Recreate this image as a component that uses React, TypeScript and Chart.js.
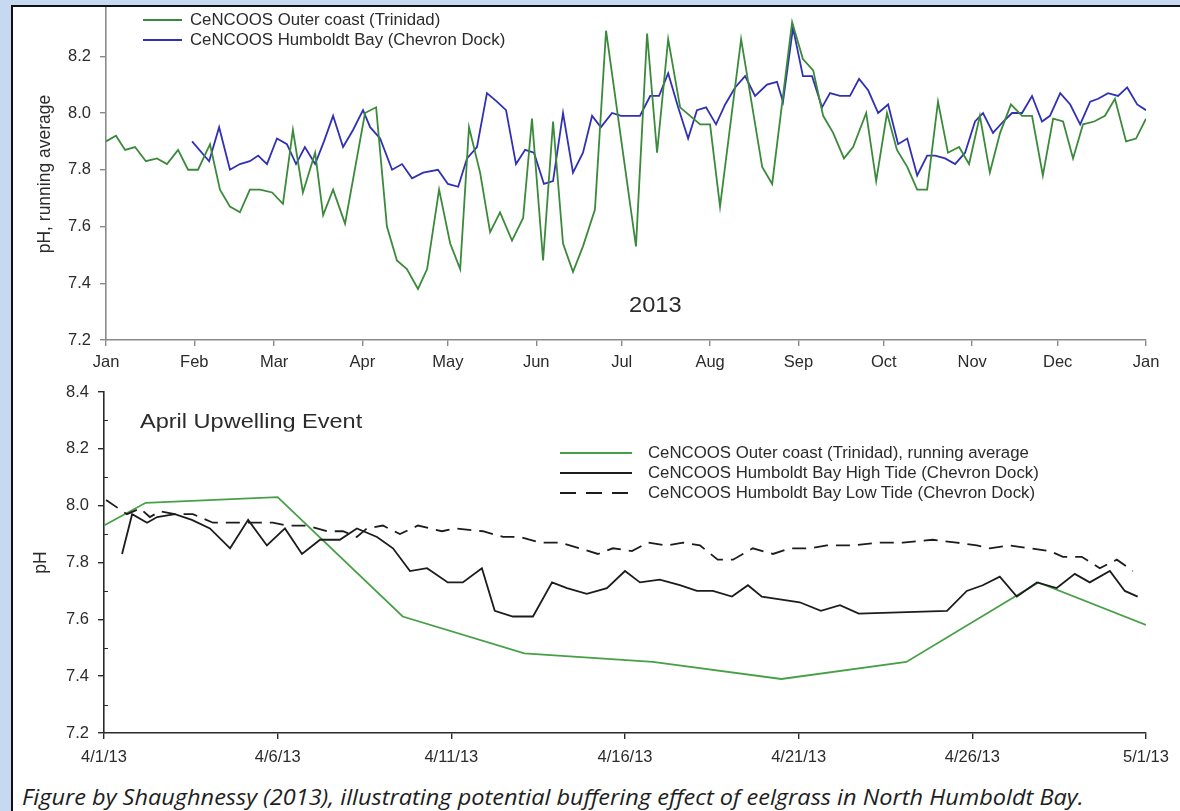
import React, { useEffect, useRef } from "react";
import { Chart, registerables } from "chart.js";

Chart.register(...registerables);

// ---- Annual panel (2013) ----
const monthTicks = [0, 31, 59, 90, 120, 151, 181, 212, 243, 273, 304, 334, 365];
const monthLabels = ["Jan", "Feb", "Mar", "Apr", "May", "Jun", "Jul", "Aug", "Sep", "Oct", "Nov", "Dec", "Jan"];
const annualPHTicks = [7.2, 7.4, 7.6, 7.8, 8.0, 8.2];

// CeNCOOS Outer coast (Trinidad): day of year, pH running average
const outerCoastDays = [
  0, 3.5, 6.7, 10.2, 14.0, 17.9, 21.4, 25.3, 28.8, 32.3, 36.5, 40.0, 43.5, 47.0, 50.5, 54.1, 58.3, 62.1, 65.6, 69.1,
  73.4, 76.2, 79.7, 83.9, 90.9, 94.8, 98.6, 102.1, 105.6, 109.5, 112.7, 116.9, 120.8, 124.3, 127.4, 131.3, 134.8, 138.3, 142.5, 146.4,
  149.5, 153.4, 156.9, 160.4, 163.9, 167.4, 171.6, 175.5, 186.0, 189.9, 193.4, 197.3, 201.5, 205.0, 208.5, 212.0, 215.5, 222.9, 230.3, 233.8,
  240.8, 244.6, 248.2, 251.7, 255.2, 259.0, 262.2, 266.8, 270.3, 274.1, 277.6, 281.2, 284.7, 288.2, 292.0, 295.5, 299.4, 302.9, 306.7, 310.2,
  313.8, 317.6, 321.5, 325.0, 328.8, 332.4, 335.9, 339.4, 342.9, 346.8, 350.6, 354.1, 358.0, 361.5, 365.0,
];
const outerCoastPH = [
  7.90, 7.92, 7.87, 7.88, 7.83, 7.84, 7.82, 7.87, 7.80, 7.80, 7.89, 7.73, 7.67, 7.65, 7.73, 7.73, 7.72, 7.68, 7.94, 7.72,
  7.86, 7.64, 7.73, 7.61, 8.00, 8.02, 7.60, 7.48, 7.45, 7.38, 7.45, 7.73, 7.54, 7.45, 7.95, 7.79, 7.58, 7.65, 7.55, 7.63,
  7.98, 7.48, 7.97, 7.54, 7.44, 7.53, 7.66, 8.29, 7.53, 8.28, 7.86, 8.26, 8.02, 7.99, 7.96, 7.96, 7.67, 8.26, 7.81, 7.75,
  8.32, 8.19, 8.15, 7.99, 7.93, 7.84, 7.88, 8.00, 7.76, 8.00, 7.87, 7.81, 7.73, 7.73, 8.04, 7.86, 7.88, 7.82, 7.99, 7.79,
  7.93, 8.03, 7.99, 7.99, 7.78, 7.98, 7.97, 7.84, 7.96, 7.97, 7.99, 8.05, 7.90, 7.91, 7.98,
];

// CeNCOOS Humboldt Bay (Chevron Dock)
const humboldtDays = [
  30.2, 36.2, 39.7, 43.5, 47.0, 50.5, 53.4, 56.5, 60.0, 63.5, 66.7, 69.8, 73.4, 76.5, 79.7, 83.2, 86.7, 90.2, 92.7, 96.2,
  100.4, 103.9, 107.4, 111.3, 116.5, 120.0, 123.6, 126.7, 130.2, 133.7, 137.2, 140.4, 143.9, 147.1, 150.2, 153.7, 156.9, 160.4, 163.9, 167.4,
  170.6, 173.7, 177.6, 180.8, 183.9, 187.4, 191.0, 194.1, 197.3, 200.8, 204.3, 207.4, 210.6, 214.1, 217.3, 220.8, 224.3, 227.8, 232.0, 235.5,
  237.6, 241.1, 244.6, 247.8, 251.3, 254.1, 257.6, 261.1, 264.3, 267.5, 271.0, 274.5, 278.0, 281.2, 284.7, 288.2, 291.0, 294.5, 298.0, 301.5,
  305.0, 307.8, 311.3, 314.9, 318.0, 321.5, 325.0, 328.5, 331.3, 334.9, 338.4, 341.9, 345.4, 348.2, 351.7, 355.2, 358.4, 361.9, 365.0,
];
const humboldtPH = [
  7.90, 7.83, 7.95, 7.80, 7.82, 7.83, 7.85, 7.82, 7.91, 7.89, 7.82, 7.88, 7.82, 7.90, 7.99, 7.88, 7.94, 8.01, 7.95, 7.91,
  7.80, 7.82, 7.77, 7.79, 7.80, 7.75, 7.74, 7.84, 7.88, 8.07, 8.04, 8.01, 7.82, 7.87, 7.86, 7.75, 7.76, 8.00, 7.79, 7.86,
  7.99, 7.95, 8.00, 7.99, 7.99, 7.99, 8.06, 8.06, 8.14, 8.02, 7.91, 8.01, 8.02, 7.96, 8.03, 8.09, 8.13, 8.06, 8.10, 8.11,
  8.04, 8.30, 8.13, 8.13, 8.02, 8.07, 8.06, 8.06, 8.12, 8.08, 8.00, 8.03, 7.89, 7.91, 7.78, 7.85, 7.85, 7.84, 7.82, 7.86,
  7.97, 8.00, 7.93, 7.97, 8.00, 8.00, 8.06, 7.97, 7.99, 8.07, 8.03, 7.96, 8.04, 8.05, 8.07, 8.06, 8.09, 8.03, 8.01,
];

// ---- April upwelling panel ----
const aprilDayTicks = [0, 5, 10, 15, 20, 25, 30];
const aprilDateLabels = ["4/1/13", "4/6/13", "4/11/13", "4/16/13", "4/21/13", "4/26/13", "5/1/13"];
const aprilPHTicks = [7.2, 7.4, 7.6, 7.8, 8.0, 8.2, 8.4];
const aprilPHMinorTicks = [7.3, 7.5, 7.7, 7.9, 8.1, 8.3];

// Days since 4/1/13
const upwellingDays = [0, 1.2, 5.0, 8.6, 12.1, 15.8, 19.5, 23.1, 26.9, 30.0];
const upwellingPH = [7.93, 8.01, 8.03, 7.61, 7.48, 7.45, 7.39, 7.45, 7.73, 7.58];

const highTideDays = [
  0.52, 0.81, 1.24, 1.53, 2.04, 2.53, 3.05, 3.63, 4.15, 4.69, 5.21, 5.70, 6.22, 6.79, 7.28, 7.86, 8.32, 8.81, 9.30, 9.90,
  10.33, 10.88, 11.25, 11.77, 12.35, 12.90, 13.33, 13.90, 14.48, 15.00, 15.43, 16.00, 16.58, 17.07, 17.53, 18.08, 18.54, 18.94, 19.46, 20.03,
  20.64, 21.19, 21.73, 24.27, 24.84, 25.30, 25.79, 26.28, 26.86, 27.43, 27.95, 28.38, 28.96, 29.39, 29.76,
];
const highTidePH = [
  7.83, 7.97, 7.94, 7.96, 7.97, 7.95, 7.92, 7.85, 7.95, 7.86, 7.92, 7.83, 7.88, 7.88, 7.92, 7.89, 7.85, 7.77, 7.78, 7.73,
  7.73, 7.78, 7.63, 7.61, 7.61, 7.73, 7.71, 7.69, 7.71, 7.77, 7.73, 7.74, 7.72, 7.70, 7.70, 7.68, 7.72, 7.68, 7.67, 7.66,
  7.63, 7.65, 7.62, 7.63, 7.70, 7.72, 7.75, 7.68, 7.73, 7.71, 7.76, 7.73, 7.77, 7.70, 7.68,
];

const lowTideDays = [
  0.06, 0.66, 1.04, 1.32, 1.61, 2.04, 2.56, 3.14, 4.29, 4.86, 5.27, 5.84, 6.42, 6.88, 7.28, 7.57, 8.03, 8.52, 9.04, 9.73,
  10.10, 10.91, 11.49, 11.97, 12.55, 13.13, 13.70, 14.22, 14.65, 15.20, 15.66, 16.21, 16.67, 17.16, 17.67, 18.11, 18.68, 19.26, 19.75, 20.32,
  20.81, 21.56, 22.34, 23.00, 23.86, 24.55, 25.13, 25.50, 26.08, 26.66, 27.23, 27.61, 28.15, 28.67, 29.16, 29.62,
];
const lowTidePH = [
  8.02, 7.97, 7.99, 7.96, 7.98, 7.97, 7.97, 7.94, 7.94, 7.94, 7.93, 7.93, 7.91, 7.91, 7.89, 7.92, 7.93, 7.90, 7.93, 7.91,
  7.92, 7.91, 7.89, 7.89, 7.87, 7.87, 7.85, 7.83, 7.85, 7.84, 7.87, 7.86, 7.87, 7.86, 7.81, 7.81, 7.85, 7.83, 7.85, 7.85,
  7.86, 7.86, 7.87, 7.87, 7.88, 7.87, 7.86, 7.85, 7.86, 7.85, 7.84, 7.82, 7.82, 7.78, 7.81, 7.77,
];

const FONT = "'Liberation Sans', Arial, Helvetica, sans-serif";
const TEXT = "#2b2b2b";
const GREEN_TOP = "#3b8a3b";
const BLUE_TOP = "#3030b4";
const GREEN_APRIL = "#47a047";
const BLACK = "#1c1c1c";
const TICK_SIZE = 16.5;

const pts = (xs: number[], ys: number[]) => xs.map((x, i) => ({ x, y: ys[i] }));

// short inward ticks between the labelled pH values
const minorTicks = {
  id: "minorTicks",
  afterDraw(chart: any, _args: any, opts: any) {
    if (!opts || !opts.values) return;
    const y = chart.scales.y;
    const ctx = chart.ctx;
    ctx.save();
    ctx.strokeStyle = opts.color;
    ctx.lineWidth = 1;
    for (const v of opts.values) {
      const py = Math.round(y.getPixelForValue(v)) + 0.5;
      ctx.beginPath();
      ctx.moveTo(y.right, py);
      ctx.lineTo(y.right + 4, py);
      ctx.stroke();
    }
    ctx.restore();
  },
};

function lineSet(data: { x: number; y: number }[], color: string, dash: number[] = []) {
  return {
    data,
    borderColor: color,
    borderWidth: 1.8,
    borderDash: dash,
    pointRadius: 0,
    tension: 0,
    fill: false,
  };
}

function axisCommon(color: string) {
  return {
    grid: { drawOnChartArea: false, drawTicks: true, tickLength: 6, color, lineWidth: 1.4 },
    border: { display: true, color, width: 1.6 },
  };
}

// pin the axis box to a fixed size and drop the label overhang padding
const fixWidth = (w: number) => (s: any) => {
  s.width = w;
  s.paddingTop = 0;
  s.paddingBottom = 0;
};
const fixHeight = (h: number) => (s: any) => {
  s.height = h;
};

function AnnualChart() {
  const ref = useRef<HTMLCanvasElement>(null);
  useEffect(() => {
    const AXIS = "#8a8a8a";
    const chart = new Chart(ref.current!, {
      type: "line",
      data: {
        datasets: [
          lineSet(pts(outerCoastDays, outerCoastPH), GREEN_TOP),
          lineSet(pts(humboldtDays, humboldtPH), BLUE_TOP),
        ] as any,
      },
      options: {
        animation: false,
        responsive: false,
        maintainAspectRatio: false,
        layout: { padding: { left: 0, right: 34, top: 8, bottom: 0 } },
        plugins: { legend: { display: false }, tooltip: { enabled: false } },
        scales: {
          x: {
            type: "linear",
            min: 0,
            max: 365,
            afterBuildTicks: (s: any) => {
              s.ticks = monthTicks.map((v) => ({ value: v }));
            },
            afterFit: fixHeight(40),
            ticks: {
              autoSkip: false,
              maxRotation: 0,
              padding: 7,
              color: TEXT,
              font: { family: FONT, size: TICK_SIZE },
              callback: (_v: any, i: number) => monthLabels[i],
            },
            ...axisCommon(AXIS),
          },
          y: {
            type: "linear",
            min: 7.2,
            max: 8.37,
            afterBuildTicks: (s: any) => {
              s.ticks = annualPHTicks.map((v) => ({ value: v }));
            },
            afterFit: fixWidth(106),
            ticks: {
              padding: 9,
              color: TEXT,
              font: { family: FONT, size: TICK_SIZE },
              callback: (v: any) => Number(v).toFixed(1),
            },
            title: {
              display: true,
              text: "pH, running average",
              color: TEXT,
              font: { family: FONT, size: 17.5 },
              padding: { top: 35, bottom: 0 },
            },
            ...axisCommon(AXIS),
          },
        },
      } as any,
    });
    return () => chart.destroy();
  }, []);
  return (
    <canvas
      ref={ref}
      width={1180}
      height={380}
      style={{ position: "absolute", left: 0, top: 0, width: 1180, height: 380 }}
    />
  );
}

function AprilChart() {
  const ref = useRef<HTMLCanvasElement>(null);
  useEffect(() => {
    const AXIS = "#2a2a2a";
    const chart = new Chart(ref.current!, {
      type: "line",
      data: {
        datasets: [
          lineSet(pts(lowTideDays, lowTidePH), BLACK, [14, 8]),
          lineSet(pts(highTideDays, highTidePH), BLACK),
          lineSet(pts(upwellingDays, upwellingPH), GREEN_APRIL),
        ] as any,
      },
      plugins: [minorTicks],
      options: {
        animation: false,
        responsive: false,
        maintainAspectRatio: false,
        layout: { padding: { left: 0, right: 34, top: 12, bottom: 0 } },
        plugins: {
          legend: { display: false },
          tooltip: { enabled: false },
          minorTicks: { values: aprilPHMinorTicks, color: AXIS },
        },
        scales: {
          x: {
            type: "linear",
            min: 0,
            max: 30,
            afterBuildTicks: (s: any) => {
              s.ticks = aprilDayTicks.map((v) => ({ value: v }));
            },
            afterFit: fixHeight(47),
            ticks: {
              autoSkip: false,
              maxRotation: 0,
              padding: 9,
              color: TEXT,
              font: { family: FONT, size: TICK_SIZE },
              callback: (_v: any, i: number) => aprilDateLabels[i],
            },
            ...axisCommon(AXIS),
          },
          y: {
            type: "linear",
            min: 7.2,
            max: 8.4,
            afterBuildTicks: (s: any) => {
              s.ticks = aprilPHTicks.map((v) => ({ value: v }));
            },
            afterFit: fixWidth(104),
            ticks: {
              padding: 9,
              color: TEXT,
              font: { family: FONT, size: TICK_SIZE },
              callback: (v: any) => Number(v).toFixed(1),
            },
            title: {
              display: true,
              text: "pH",
              color: TEXT,
              font: { family: FONT, size: 17.5 },
              padding: { top: 31, bottom: 0 },
            },
            ...axisCommon(AXIS),
          },
        },
      } as any,
    });
    return () => chart.destroy();
  }, []);
  return (
    <canvas
      ref={ref}
      width={1180}
      height={400}
      style={{ position: "absolute", left: 0, top: 380, width: 1180, height: 400 }}
    />
  );
}

const textAt = (
  left: number,
  centerY: number,
  size: number,
  stretch = 1,
  extra: React.CSSProperties = {}
): React.CSSProperties => ({
  position: "absolute",
  left,
  top: centerY,
  transform: `translateY(-50%) scaleX(${stretch})`,
  transformOrigin: "left center",
  fontFamily: FONT,
  fontSize: size,
  lineHeight: 1,
  color: TEXT,
  whiteSpace: "nowrap",
  ...extra,
});

const sample = (left: number, y: number, width: number, bg: string): React.CSSProperties => ({
  position: "absolute",
  left,
  top: y - 1,
  width,
  height: 2,
  background: bg,
});

export default function App() {
  return (
    <div
      style={{
        position: "absolute",
        left: 0,
        top: 0,
        width: 1180,
        height: 811,
        overflow: "hidden",
        background: "#c6d9f0",
      }}
    >
      <div
        style={{
          position: "absolute",
          left: 11,
          top: 5,
          width: 1200,
          height: 900,
          background: "#ffffff",
          borderLeft: "2px solid #111",
          borderTop: "2px solid #111",
        }}
      />
      <AnnualChart />
      <AprilChart />

      {/* annual legend */}
      <div style={sample(143, 20, 39, GREEN_TOP)} />
      <div style={textAt(190, 20, 16.8)}>CeNCOOS Outer coast (Trinidad)</div>
      <div style={sample(143, 40, 39, BLUE_TOP)} />
      <div style={textAt(190, 40, 16.8)}>CeNCOOS Humboldt Bay (Chevron Dock)</div>
      <div style={textAt(629, 306, 21.5, 1.1)}>2013</div>

      {/* April legend and heading */}
      <div style={textAt(140, 420, 21, 1.12)}>April Upwelling Event</div>
      <div style={sample(560, 453, 72, GREEN_APRIL)} />
      <div style={textAt(648, 453, 16.8)}>CeNCOOS Outer coast (Trinidad), running average</div>
      <div style={sample(560, 473, 72, BLACK)} />
      <div style={textAt(648, 473, 16.8)}>CeNCOOS Humboldt Bay High Tide (Chevron Dock)</div>
      <div
        style={sample(
          560,
          493,
          72,
          `repeating-linear-gradient(to right, ${BLACK} 0px, ${BLACK} 16px, transparent 16px, transparent 26px)`
        )}
      />
      <div style={textAt(648, 493, 16.8)}>CeNCOOS Humboldt Bay Low Tide (Chevron Dock)</div>

      <div
        style={textAt(22, 797, 21, 1.12, {
          fontFamily: "'Open Sans', 'Noto Sans', sans-serif",
          fontStyle: "italic",
          color: "#1e1e1e",
        })}
      >
        Figure by Shaughnessy (2013), illustrating potential buffering effect of eelgrass in North Humboldt Bay.
      </div>
    </div>
  );
}
